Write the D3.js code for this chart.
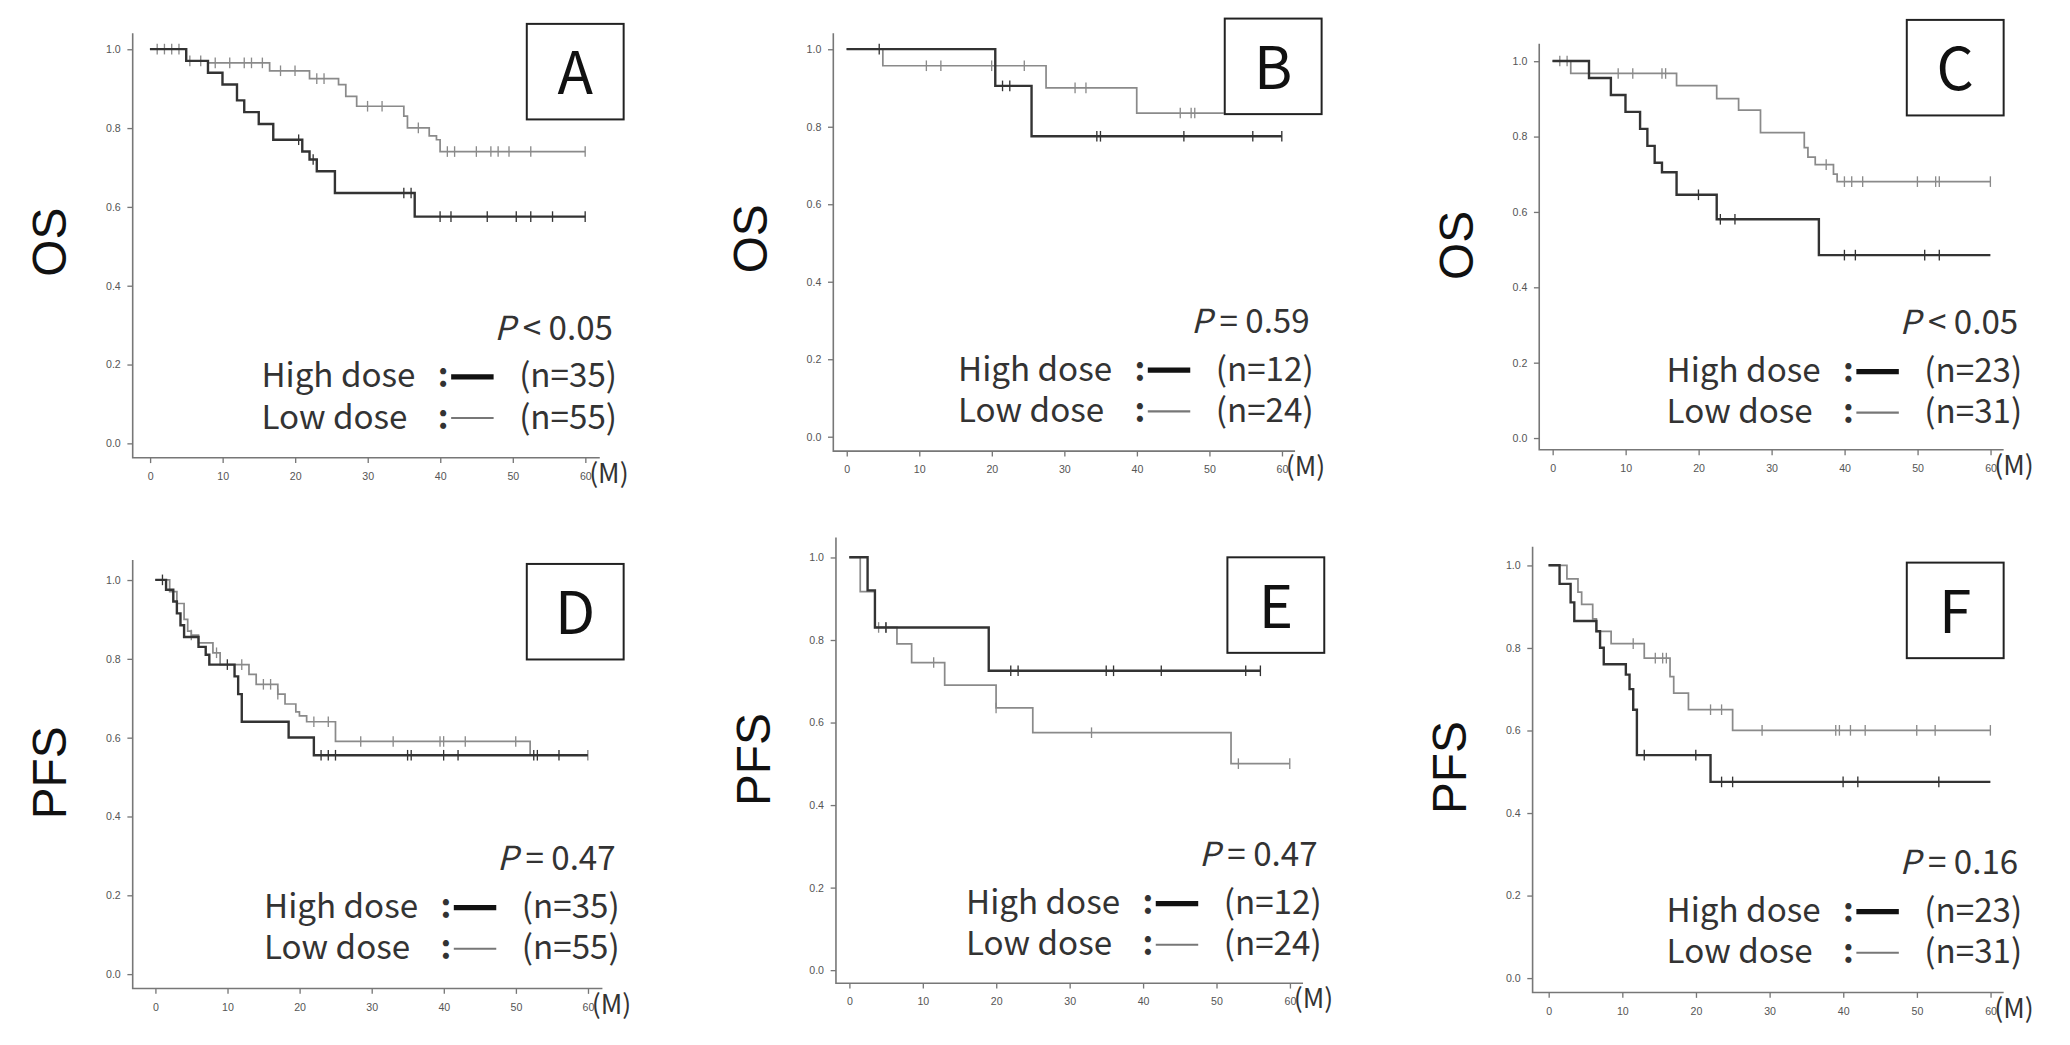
<!DOCTYPE html>
<html><head><meta charset="utf-8">
<script src="https://cdn.jsdelivr.net/npm/d3@7"></script>
<style>body{margin:0;background:#fff}</style></head>
<body><svg id="c" width="2070" height="1045"></svg>
<script>
// ---------- DATA ----------
const panelLetters = ["A","B","C","D","E","F"];
const yTitles = ["OS","OS","OS","PFS","PFS","PFS"];
const pTexts = ["< 0.05","= 0.59","< 0.05","= 0.47","= 0.47","= 0.16"];
const nHigh = [35,12,23,35,12,23];
const nLow = [55,24,31,55,24,31];
const xTicks = [0,10,20,30,40,50,60];
const yTicks = [0,0.2,0.4,0.6,0.8,1.0];

const highT = [
 [5,8,10,12,13,15,17,21,22,23,25.5,36.5],
 [20.5,25.5],
 [5,8,10,12,13,14,15,17,22.5,36.5],
 [1.5,2.5,3,3.5,4,6,7,7.5,11,11.5,12,18.5,22],
 [2.5,3.5,19],
 [1.5,3,3.5,6.5,7,7.5,10.5,11,11.5,12,22]
];
const highS = [
 [0.97,0.94,0.91,0.87,0.84,0.81,0.77,0.74,0.72,0.69,0.635,0.575],
 [0.905,0.775],
 [0.955,0.91,0.865,0.82,0.775,0.73,0.705,0.645,0.58,0.485],
 [0.975,0.945,0.915,0.885,0.855,0.83,0.81,0.785,0.755,0.71,0.64,0.60,0.555],
 [0.92,0.83,0.725],
 [0.955,0.91,0.865,0.84,0.80,0.76,0.735,0.70,0.65,0.54,0.475]
];
const highC = [
 [20.5,22.5,35,36,40,41.5,46.5,50.5,52.5,55.5,60],
 [4.5,21.5,22.5,34.5,35,46.5,56,60],
 [20,23,25,40,41.5,51,53],
 [1,10,23,24,25,35,35.5,40,42,52.5,53,56],
 [5,22,23,35,36,42.5,54,56],
 [13,20,23.5,25,40,42,53]
];
const highEnd = [60,60,60,60,56,60];
const lowT = [
 [5,8,16.5,22,26,27,28.5,35,35.5,38.5,39.5,40],
 [5,27.5,40],
 [2.5,17,22.5,25.5,28.5,34.5,35,36,38.5,39],
 [2,3,4,4.5,5,6,8,9,13,14,17,18,19.5,20,21,25,52],
 [1.5,3.5,6.5,8.5,13,20,25,52],
 [2.5,4,4.5,6,6.5,8.5,13,16.5,17,19,25]
];
const lowS = [
 [0.97,0.965,0.945,0.925,0.91,0.88,0.855,0.83,0.80,0.78,0.77,0.74],
 [0.957,0.90,0.835],
 [0.967,0.935,0.90,0.87,0.81,0.77,0.745,0.725,0.70,0.68],
 [0.97,0.94,0.90,0.87,0.86,0.84,0.815,0.785,0.76,0.735,0.71,0.685,0.665,0.655,0.64,0.59,0.555],
 [0.917,0.83,0.79,0.745,0.69,0.635,0.575,0.50],
 [0.967,0.935,0.905,0.87,0.84,0.81,0.775,0.73,0.69,0.65,0.60]
];
const lowC = [
 [1,2,3,4,5.5,7,9,11,13,14,15.5,18,20,23,24,30,32,37,41,42,45,47,48,49.5,52.5,60],
 [11,13,20,24.5,31.5,33,46,47.5,48],
 [1,2,9,11,15,15.5,37.5,40,41,42.5,50,52.5,53,60],
 [5,8.5,12,15,16,17,22,24,28.5,33,39.5,40,43,50,60],
 [4,5,11.5,20,33,53,60],
 [11.5,14.5,15.5,16,22,23.5,29,39,39.5,41,43,50,52.5,60]
];
const lowEnd = [60,52,60,60,60,60];

// ---------- LAYOUT ----------
const S = 2070/1560;
const layout = [
 {ax:100,x0:113,x1:441,y1:37,y0:334,axY:345,top:25,right:452,boxL:397,boxT:18},
 {ax:628,x0:638,x1:966,y1:37,y0:329,axY:340,top:25,right:976,boxL:923,boxT:14},
 {ax:1160,x0:1170,x1:1500,y1:46,y0:330,axY:339,top:33,right:1510,boxL:1437,boxT:15},
 {ax:100,x0:117,x1:443,y1:437,y0:734,axY:745,top:422,right:454,boxL:397,boxT:425},
 {ax:630,x0:640,x1:972,y1:420,y0:731,axY:741,top:405,right:982,boxL:925,boxT:420},
 {ax:1155,x0:1167,x1:1500,y1:426,y0:737,axY:748,top:412,right:1510,boxL:1437,boxT:424}
];
const svg = d3.select("#c");
const F = "'Noto Sans CJK JP','Noto Sans',sans-serif";
const FS = "25px";

function stepPts(T,Sv,end){
  const pts=[[0,1]]; let s=1;
  T.forEach((t,i)=>{pts.push([t,s]);s=Sv[i];pts.push([t,s]);});
  pts.push([end,s]); return pts;
}
function survAt(T,Sv,t){let s=1;T.forEach((tt,i)=>{if(tt<=t)s=Sv[i];});return s;}

layout.forEach((L,i)=>{
  const g = svg.append("g").attr("transform",`scale(${S})`);
  const x = d3.scaleLinear().domain([0,60]).range([L.x0,L.x1]);
  const y = d3.scaleLinear().domain([0,1]).range([L.y0,L.y1]);
  g.append("path").attr("d",`M${L.ax},${L.top}V${L.axY}H${L.right}`).attr("fill","none").attr("stroke","#777").attr("stroke-width",1.2);
  const ya = d3.axisLeft(y).tickValues(yTicks).tickFormat(d3.format(".1f")).tickSize(4).tickPadding(5);
  const ygG = g.append("g").attr("transform",`translate(${L.ax},0)`).call(ya);
  ygG.select(".domain").remove();
  const xa = d3.axisBottom(x).tickValues(xTicks).tickSize(4).tickPadding(7);
  const xgG = g.append("g").attr("transform",`translate(0,${L.axY})`).call(xa);
  xgG.select(".domain").remove();
  [ygG,xgG].forEach(a=>{a.selectAll("line").attr("stroke","#777");a.selectAll("text").attr("fill","#555").style("font-size","8px").style("font-family","'Liberation Sans',sans-serif");});
  g.append("text").attr("x",L.x1+3).attr("y",L.axY+19).text("(M)").style("font-size","20px").style("font-family",F).attr("fill","#333");
  g.append("text").attr("transform",`translate(${L.ax-50},${(L.y0+L.y1)/2-3}) rotate(-90)`).attr("text-anchor","middle")
   .text(yTitles[i]).style("font-size","36px").style("font-family","'Liberation Sans',sans-serif").attr("fill","#111");
  const line = d3.line().x(d=>x(d[0])).y(d=>y(d[1]));
  const curves=[
    {T:lowT[i],Sv:lowS[i],C:lowC[i],end:lowEnd[i],col:"#8a8a8a",w:1.3},
    {T:highT[i],Sv:highS[i],C:highC[i],end:highEnd[i],col:"#333",w:1.8}
  ];
  curves.forEach(c=>{
    g.append("path").attr("d",line(stepPts(c.T,c.Sv,c.end))).attr("fill","none").attr("stroke",c.col).attr("stroke-width",c.w);
    g.selectAll(null).data(c.C).enter().append("line")
     .attr("x1",d=>x(d)).attr("x2",d=>x(d))
     .attr("y1",d=>y(survAt(c.T,c.Sv,d))-4).attr("y2",d=>y(survAt(c.T,c.Sv,d))+4)
     .attr("stroke",c.col).attr("stroke-width",1);
  });
  g.append("rect").attr("x",L.boxL).attr("y",L.boxT).attr("width",73).attr("height",72).attr("fill","#fff").attr("stroke","#222").attr("stroke-width",1.5);
  g.append("text").attr("x",L.boxL+36.5).attr("y",L.boxT+53).attr("text-anchor","middle").text(panelLetters[i])
   .style("font-size","44px").style("font-family",F).attr("fill","#111");
  const pt = g.append("text").attr("x",L.x1+21).attr("y",L.y0-78).attr("text-anchor","end").style("font-size",FS).style("font-family",F).attr("fill","#333");
  pt.append("tspan").text("P").style("font-style","italic");
  pt.append("tspan").text(" "+pTexts[i]);
  const lx = L.x1-244;
  const txt=(xx,yy,s,anchor)=>g.append("text").attr("x",xx).attr("y",yy).attr("text-anchor",anchor||"start").text(s).style("font-size",FS).style("font-family",F).attr("fill","#333");
  txt(lx,L.y0-42,"High dose");
  txt(lx,L.y0-11,"Low dose");
  txt(L.x1-107,L.y0-42,":","middle").style("font-weight","bold");
  txt(L.x1-107,L.y0-11,":","middle").style("font-weight","bold");
  g.append("line").attr("x1",L.x1-101).attr("x2",L.x1-69).attr("y1",L.y0-50).attr("y2",L.y0-50).attr("stroke","#111").attr("stroke-width",4);
  g.append("line").attr("x1",L.x1-101).attr("x2",L.x1-69).attr("y1",L.y0-19).attr("y2",L.y0-19).attr("stroke","#777").attr("stroke-width",1.6);
  txt(L.x1+24,L.y0-42,`(n=${nHigh[i]})`,"end");
  txt(L.x1+24,L.y0-11,`(n=${nLow[i]})`,"end");
});
</script></body></html>
